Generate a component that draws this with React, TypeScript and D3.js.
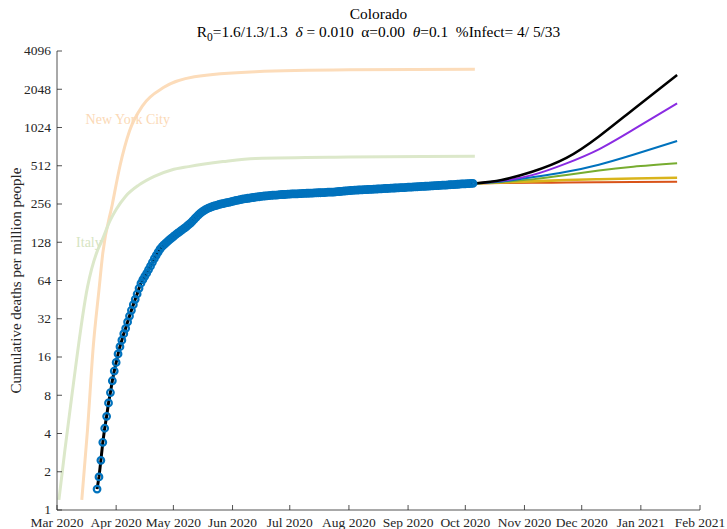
import React from "react";
import * as d3 from "d3";

// observed cumulative deaths per million, Colorado, one value per day from obsStart
const obsStart = "2020-03-22";
const coloradoDeaths = [
  1.46, 1.82, 2.46, 3.41, 4.4, 5.46, 6.96, 8.4, 10.4, 12.4,
  14.5, 16.9, 19.3, 21.7, 24.4, 26.9, 30.2, 33.6, 37.3, 41.3,
  45.5, 50.1, 55.6, 60.9,
  65, 69, 73, 78, 83, 89, 95, 101, 107, 113,
  118, 122, 126, 130, 134, 138, 142, 146, 150, 154,
  158, 162, 166, 171, 176, 181, 188, 195, 202, 209,
  216, 222, 227, 232, 236, 240, 243, 246, 249, 251,
  254, 256, 258, 260, 262, 264, 266, 268, 271, 273,
  275, 277, 279, 281, 282, 284, 285, 287, 288, 290,
  291, 292, 294, 295, 296, 297, 298, 299, 300, 301,
  301, 302, 303, 304, 304, 305, 306, 306, 307, 307,
  308, 308, 309, 309, 310, 310, 311, 311, 312,
  312, 313, 313, 314, 314, 315, 315, 316, 317, 317,
  318, 318, 319, 320, 321, 322, 323, 324, 325, 326,
  327, 328, 329, 329, 330, 331, 331, 332, 332, 333,
  334, 334, 335, 335, 336, 337, 337, 338, 339, 339,
  340, 341, 341, 342, 343, 343, 344, 345, 345, 346,
  347, 347, 348, 349, 349, 350, 351, 352, 352, 353,
  354, 354, 355, 356, 357, 357, 358, 359, 360, 360,
  361, 362, 363, 364, 364, 365, 366, 367, 368, 369,
  369, 370, 371, 372, 372,
];

// reference curves
const nycDates = [
  "2020-03-14", "2020-03-17", "2020-03-20", "2020-03-23", "2020-03-25",
  "2020-03-30", "2020-04-03", "2020-04-08", "2020-04-15", "2020-04-26",
  "2020-05-12", "2020-06-13", "2020-08-01", "2020-10-06",
];
const nycDeaths = [1.2, 4.3, 19.3, 54, 105, 255, 510, 960, 1530, 2120, 2570, 2817, 2910, 2940];

const italyDates = [
  "2020-03-02", "2020-03-05", "2020-03-09", "2020-03-17", "2020-03-22",
  "2020-03-24", "2020-03-29", "2020-04-01", "2020-04-06", "2020-04-13",
  "2020-04-21", "2020-04-30", "2020-05-09", "2020-05-27", "2020-06-13",
  "2020-08-01", "2020-10-06",
];
const italyDeaths = [1.2, 2.85, 8.4, 57, 108, 126, 192, 232, 295, 362, 423, 474, 504, 552, 585, 600, 608];

// projections from the last observation
const projDates = ["2020-10-06", "2020-10-20", "2020-11-05", "2020-11-23", "2020-12-10", "2020-12-28", "2021-01-20"];
const projBlack = [372, 396, 459, 590, 870, 1420, 2650];
const projPurple = [372, 390, 432, 535, 690, 985, 1587];
const projBlue = [372, 385, 415, 459, 522, 625, 802];
const projGreen = [372, 382, 400, 433, 470, 503, 535];
const projYellow = [372, 378, 386, 395, 401, 406, 412];
const projOrange = [372, 374, 376, 378, 380, 381, 383];

const yTicks = [1, 2, 4, 8, 16, 32, 64, 128, 256, 512, 1024, 2048, 4096];

const W = 727;
const H = 529;
const margin = { left: 57, right: 27, top: 51, bottom: 19 };
const font = "'Liberation Serif', 'Times New Roman', Times, 'DejaVu Serif', serif";

const parse = d3.utcParse("%Y-%m-%d");

type Pt = [Date, number];

const App: React.FC = () => {
  const x = d3
    .scaleUtc()
    .domain([parse("2020-03-01")!, parse("2021-02-01")!])
    .range([margin.left, W - margin.right]);
  const y = d3
    .scaleLog()
    .base(2)
    .domain([1, 4096])
    .range([H - margin.bottom, margin.top]);

  const start = parse(obsStart)!;
  const obs: Pt[] = coloradoDeaths.map((v, i) => [d3.utcDay.offset(start, i), v]);
  const zip = (ds: string[], vs: number[]): Pt[] => ds.map((d, i) => [parse(d)!, vs[i]]);

  const smooth = d3
    .line<Pt>()
    .x((d) => x(d[0]))
    .y((d) => y(d[1]))
    .curve(d3.curveMonotoneX);
  const natural = d3
    .line<Pt>()
    .x((d) => x(d[0]))
    .y((d) => y(d[1]))
    .curve(d3.curveNatural);
  const straight = d3
    .line<Pt>()
    .x((d) => x(d[0]))
    .y((d) => y(d[1]));

  const projections = [
    { vals: projOrange, color: "#d95319", w: 2 },
    { vals: projYellow, color: "#d9b41c", w: 2.6 },
    { vals: projGreen, color: "#77ac30", w: 2 },
    { vals: projBlue, color: "#0072bd", w: 2 },
    { vals: projPurple, color: "#8a2be2", w: 2 },
    { vals: projBlack, color: "#000000", w: 2.5 },
  ];

  const xTicks = x.ticks(d3.utcMonth.every(1)!);
  const fmt = d3.utcFormat("%b %Y");
  const x0 = margin.left;
  const y0 = H - margin.bottom;
  const axisColor = "#262626";

  return (
    <svg width={W} height={H} style={{ display: "block", fontFamily: font }}>
      <style>{`body{margin:0}`}</style>
      <rect width={W} height={H} fill="#fff" />

      {/* reference curves */}
      <path d={smooth(zip(nycDates, nycDeaths))!} fill="none" stroke="#fcdcba" strokeWidth={3} />
      <path d={smooth(zip(italyDates, italyDeaths))!} fill="none" stroke="#dce8ca" strokeWidth={3} />
      <text x={x(parse("2020-03-16")!)} y={y(1090)} fontSize={14} fill="#fbd9b6">
        New York City
      </text>
      <text x={x(parse("2020-03-11")!)} y={y(117)} fontSize={14} fill="#d6e4c2">
        Italy
      </text>

      {/* fit through the data */}
      <path d={straight(obs)!} fill="none" stroke="#000" strokeWidth={3} />

      {/* projections */}
      {projections.map((p, i) => (
        <path
          key={i}
          d={natural(zip(projDates, p.vals))!}
          fill="none"
          stroke={p.color}
          strokeWidth={p.w}
        />
      ))}

      {/* observed */}
      {obs.map((d, i) => (
        <circle
          key={i}
          cx={x(d[0])}
          cy={y(d[1])}
          r={3.3}
          fill="none"
          stroke="#0072bd"
          strokeWidth={2.2}
        />
      ))}

      {/* axes */}
      <line x1={x0} x2={x0} y1={margin.top} y2={y0} stroke={axisColor} strokeWidth={0.8} />
      <line x1={x0} x2={W - margin.right} y1={y0} y2={y0} stroke={axisColor} strokeWidth={0.8} />
      {yTicks.map((t) => (
        <g key={t}>
          <line x1={x0} x2={x0 + 5} y1={y(t)} y2={y(t)} stroke={axisColor} strokeWidth={0.8} />
          <text x={x0 - 6} y={y(t)} dy="0.33em" textAnchor="end" fontSize={13.5} fill={axisColor}>
            {t}
          </text>
        </g>
      ))}
      {xTicks.map((t, i) => (
        <g key={i}>
          <line x1={x(t)} x2={x(t)} y1={y0} y2={y0 - 5} stroke={axisColor} strokeWidth={0.8} />
          <text x={x(t)} y={y0 + 17} textAnchor="middle" fontSize={13.5} fill={axisColor}>
            {fmt(t)}
          </text>
        </g>
      ))}

      <text
        transform={`translate(21,${(margin.top + y0) / 2}) rotate(-90)`}
        textAnchor="middle"
        fontSize={15}
        fill={axisColor}
      >
        Cumulative deaths per million people
      </text>

      {/* title */}
      <text x={(x0 + W - margin.right) / 2} y={19} textAnchor="middle" fontSize={15.4} fill="#000">
        Colorado
      </text>
      <text
        x={(x0 + W - margin.right) / 2}
        y={37}
        textAnchor="middle"
        fontSize={15.4}
        fill="#000"
        style={{ whiteSpace: "pre" }}
      >
        R<tspan fontSize={11.5} dy={4}>0</tspan>
        <tspan dy={-4}>=1.6/1.3/1.3  </tspan>
        <tspan fontStyle="italic">δ</tspan>
        <tspan> = 0.010  α=0.00  </tspan>
        <tspan fontStyle="italic">θ</tspan>
        <tspan>=0.1  %Infect= 4/ 5/33</tspan>
      </text>
    </svg>
  );
};

export default App;
